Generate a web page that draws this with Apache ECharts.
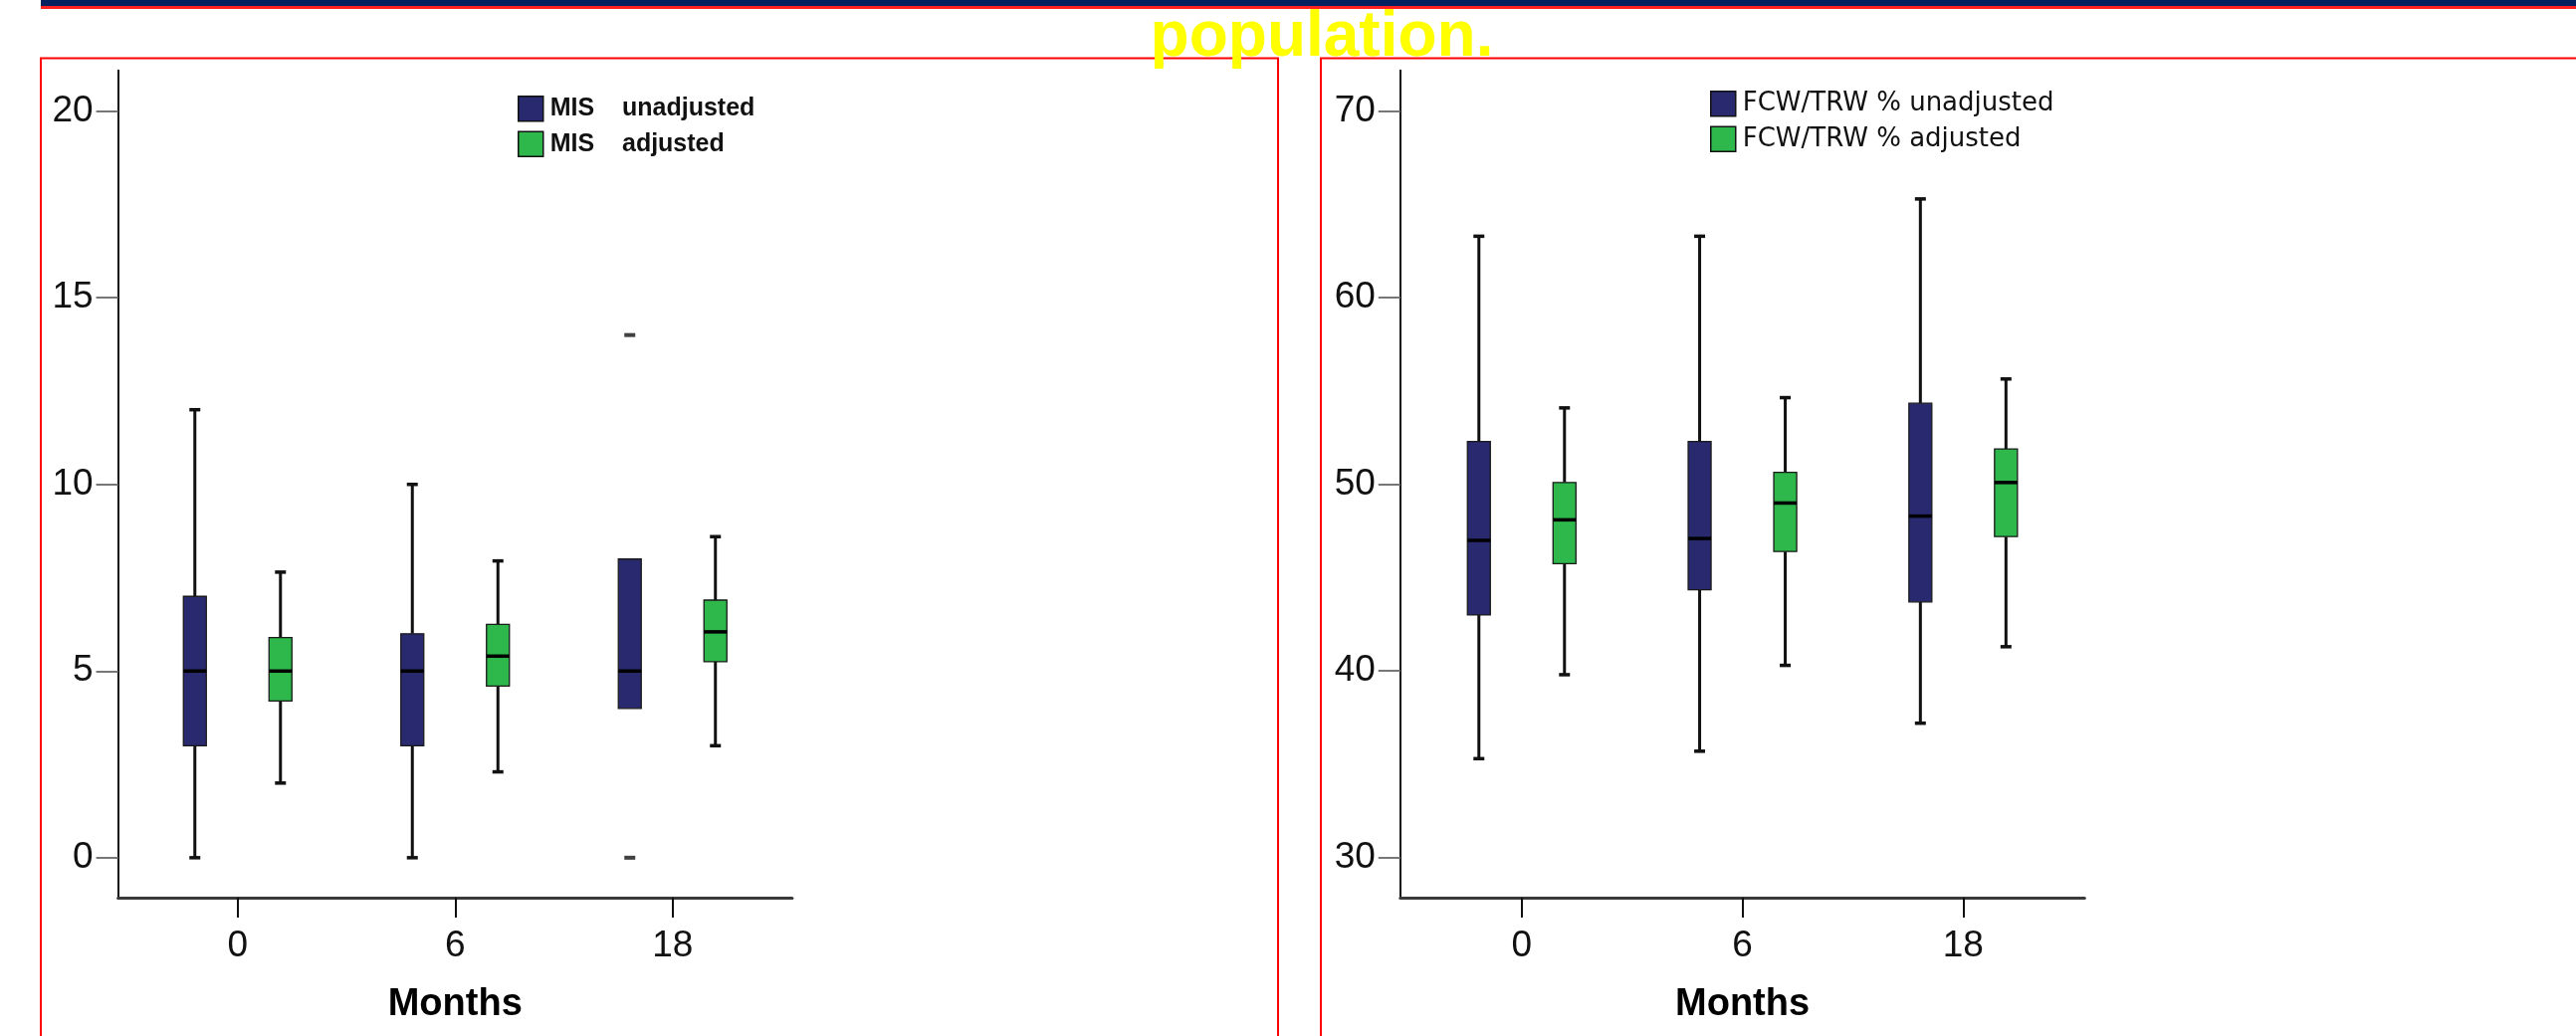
<!DOCTYPE html>
<html>
<head>
<meta charset="utf-8">
<title>MIS and FCW/TRW by month</title>
<script src="https://cdn.jsdelivr.net/npm/echarts@6.0.0/dist/echarts.min.js"></script>
<style>
  html, body { margin: 0; padding: 0; background: #fff; }
  #chart { width: 2588px; height: 1041px; }
</style>
</head>
<body>
<div id="chart"></div>
<script>
const months = ['0', '6', '18'];
const misTicks = [0, 5, 10, 15, 20];
const fcwTicks = [30, 40, 50, 60, 70];

// each row: [min, Q1, median, Q3, max] for months 0, 6, 18
const misUnadjusted = [
  [0, 3, 5, 7, 12],
  [0, 3, 5, 6, 10],
  [4, 4, 5, 8, 8]
];
const misAdjusted = [
  [2.0, 4.2, 5.0, 5.9, 7.65],
  [2.3, 4.6, 5.4, 6.25, 7.95],
  [3.0, 5.25, 6.05, 6.9, 8.6]
];
const misOutlierMonths = ['18', '18'];
const misOutlierValues = [0, 14];

const fcwUnadjusted = [
  [35.3, 43.0, 47.0, 52.3, 63.3],
  [35.7, 44.35, 47.1, 52.3, 63.3],
  [37.2, 43.7, 48.3, 54.35, 65.3]
];
const fcwAdjusted = [
  [39.8, 45.75, 48.1, 50.1, 54.1],
  [40.3, 46.4, 49.0, 50.65, 54.65],
  [41.3, 47.2, 50.1, 51.9, 55.65]
];

const BLUE = '#29296f';
const GREEN = '#2eb74b';
const FONT = '"Liberation Sans", Arial, sans-serif';
const BOX_W = 23;
const CAP_W = 11;
const SHIFT = 43;

const chart = echarts.init(document.getElementById('chart'));

// month index goes in front of the five box values
function boxData(rows) {
  return rows.map((r, i) => [i].concat(r));
}

function boxRender(offset) {
  return function (params, api) {
    const i = api.value(0);
    const lo = api.coord([i, api.value(1)]);
    const q1 = api.coord([i, api.value(2)]);
    const md = api.coord([i, api.value(3)]);
    const q3 = api.coord([i, api.value(4)]);
    const hi = api.coord([i, api.value(5)]);
    const x = lo[0] + offset;
    const whisker = { stroke: '#111', lineWidth: 3 };
    const cap = { stroke: '#111', lineWidth: 3.5 };
    const children = [];
    if (hi[1] < q3[1]) {
      children.push({ type: 'line', shape: { x1: x, y1: hi[1], x2: x, y2: q3[1] }, style: whisker });
      children.push({ type: 'line', shape: { x1: x - CAP_W / 2, y1: hi[1], x2: x + CAP_W / 2, y2: hi[1] }, style: cap });
    }
    if (lo[1] > q1[1]) {
      children.push({ type: 'line', shape: { x1: x, y1: q1[1], x2: x, y2: lo[1] }, style: whisker });
      children.push({ type: 'line', shape: { x1: x - CAP_W / 2, y1: lo[1], x2: x + CAP_W / 2, y2: lo[1] }, style: cap });
    }
    children.push({
      type: 'rect',
      shape: { x: x - BOX_W / 2, y: q3[1], width: BOX_W, height: q1[1] - q3[1] },
      style: { fill: api.visual('color'), stroke: '#1a1a1a', lineWidth: 1.3 }
    });
    children.push({
      type: 'line',
      shape: { x1: x - BOX_W / 2, y1: md[1], x2: x + BOX_W / 2, y2: md[1] },
      style: { stroke: '#000', lineWidth: 3.5 }
    });
    return { type: 'group', children: children };
  };
}

function xAxisFor(gridIndex) {
  return {
    type: 'value',
    gridIndex: gridIndex,
    min: -0.55,
    max: 2.55,
    name: 'Months',
    nameLocation: 'middle',
    nameGap: 89,
    nameTextStyle: { fontSize: 38, fontWeight: 'bold', color: '#000', fontFamily: FONT },
    axisLine: { onZero: false, lineStyle: { color: '#3a3a3a', width: 3 } },
    axisTick: { show: true, length: 20, customValues: [0, 1, 2], lineStyle: { color: '#111', width: 2 } },
    axisLabel: {
      customValues: [0, 1, 2],
      formatter: v => months[v],
      margin: 30,
      fontSize: 37,
      color: '#111',
      fontFamily: FONT
    },
    splitLine: { show: false }
  };
}

function yAxisFor(gridIndex, ticks, min, max) {
  return {
    type: 'value',
    gridIndex: gridIndex,
    min: min,
    max: max,
    axisLine: { show: true, onZero: false, lineStyle: { color: '#111', width: 2 } },
    axisTick: { show: true, length: 22, customValues: ticks, lineStyle: { color: '#777', width: 2 } },
    axisLabel: {
      customValues: ticks,
      margin: 25,
      fontSize: 37,
      color: '#111',
      fontFamily: FONT,
      padding: [10, 0, 0, 0]
    },
    splitLine: { show: false }
  };
}

function legendFor(names, left, top, textStyle) {
  return {
    data: names,
    orient: 'vertical',
    left: left,
    top: top,
    itemWidth: 25,
    itemHeight: 25,
    itemGap: 9,
    icon: 'rect',
    itemStyle: { borderColor: '#111', borderWidth: 1.5 },
    textStyle: textStyle
  };
}

const option = {
  animation: false,
  backgroundColor: '#fff',
  graphic: [
    { type: 'rect', shape: { x: 41, y: 0, width: 2600, height: 6 }, style: { fill: '#002060' } },
    { type: 'rect', shape: { x: 41, y: 6, width: 2600, height: 3 }, style: { fill: '#ff2020' } },
    { type: 'rect', shape: { x: 41, y: 58.5, width: 1243, height: 1100 }, style: { fill: 'none', stroke: '#ff0000', lineWidth: 2 } },
    { type: 'rect', shape: { x: 1327, y: 58.5, width: 1400, height: 1100 }, style: { fill: 'none', stroke: '#ff0000', lineWidth: 2 } },
    {
      type: 'text', z: 100, x: 1328, y: 38,
      style: { text: 'population.', fill: '#ffff00', font: 'bold 64px ' + FONT, align: 'center', verticalAlign: 'middle' }
    }
  ],
  legend: [
    legendFor(['MIS    unadjusted', 'MIS    adjusted'], 515, 91,
      { fontSize: 25, fontWeight: 'bold', color: '#111', fontFamily: FONT, lineHeight: 25, padding: [0, 0, 0, 2] }),
    legendFor(['FCW/TRW % unadjusted', 'FCW/TRW % adjusted'], 1713, 86,
      { fontSize: 26, color: '#111', fontFamily: '"DejaVu Sans", sans-serif', lineHeight: 25, padding: [0, 0, 0, 2] })
  ],
  grid: [
    { left: 118.6, top: 70.7, width: 677.3, height: 831.3 },
    { left: 1406.8, top: 70.7, width: 687.5, height: 831.3 }
  ],
  xAxis: [xAxisFor(0), xAxisFor(1)],
  yAxis: [
    yAxisFor(0, misTicks, -1.07, 21.09),
    yAxisFor(1, fcwTicks, 27.85, 72.19)
  ],
  series: [
    {
      name: 'MIS    unadjusted', type: 'custom', xAxisIndex: 0, yAxisIndex: 0,
      itemStyle: { color: BLUE }, renderItem: boxRender(-SHIFT),
      encode: { x: 0, y: [1, 2, 3, 4, 5] }, data: boxData(misUnadjusted)
    },
    {
      name: 'MIS    adjusted', type: 'custom', xAxisIndex: 0, yAxisIndex: 0,
      itemStyle: { color: GREEN }, renderItem: boxRender(SHIFT),
      encode: { x: 0, y: [1, 2, 3, 4, 5] }, data: boxData(misAdjusted)
    },
    {
      name: 'MIS outliers', type: 'scatter', xAxisIndex: 0, yAxisIndex: 0,
      symbol: 'rect', symbolSize: [11, 4], symbolOffset: [-SHIFT, 0],
      itemStyle: { color: '#111' },
      data: misOutlierMonths.map((m, k) => [months.indexOf(m), misOutlierValues[k]])
    },
    {
      name: 'FCW/TRW % unadjusted', type: 'custom', xAxisIndex: 1, yAxisIndex: 1,
      itemStyle: { color: BLUE }, renderItem: boxRender(-SHIFT),
      encode: { x: 0, y: [1, 2, 3, 4, 5] }, data: boxData(fcwUnadjusted)
    },
    {
      name: 'FCW/TRW % adjusted', type: 'custom', xAxisIndex: 1, yAxisIndex: 1,
      itemStyle: { color: GREEN }, renderItem: boxRender(SHIFT),
      encode: { x: 0, y: [1, 2, 3, 4, 5] }, data: boxData(fcwAdjusted)
    }
  ]
};

chart.setOption(option);
</script>
</body>
</html>
